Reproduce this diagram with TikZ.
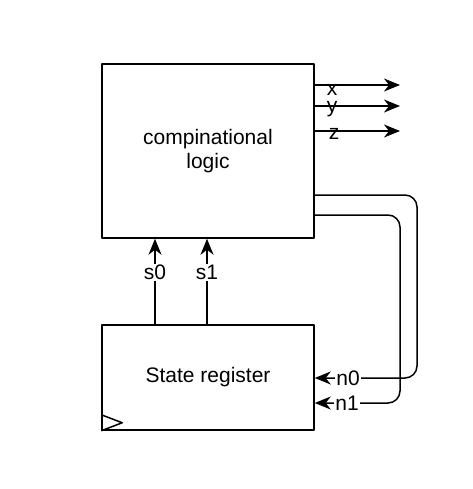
\documentclass[tikz,border=0pt]{standalone}
\usepackage{fontspec}
\setmainfont{Liberation Sans}
\usetikzlibrary{arrows.meta}
\tikzset{
  block/.style={draw,minimum width=212,minimum height=#1,align=center},
  sig/.style={fill=white,inner sep=1pt},
  outlbl/.style={inner sep=0pt,anchor=base},
}
\begin{document}
\begin{tikzpicture}[x=1pt,y=-1pt,line join=round,>={Stealth[length=16pt,width=13pt,inset=5pt]},
line width=1.5pt,font=\fontsize{21}{24}\selectfont]
\useasboundingbox (0,0) rectangle (472,489);
\node[block=174] (logic) at (208,151) {compinational\\logic};
\node[block=105] (reg) at (208,377.5) {State register};
% clock input
\draw (reg.south west) ++(0,-16) -- ++(21,8) -- ++(-21,8);
% outputs
\coordinate (xo) at (400,85);
\coordinate (yo) at (400,106);
\coordinate (zo) at (400,131);
\draw[->] (logic.east |- xo) -- (xo);
\draw[->] (logic.east |- yo) -- (yo);
\draw[->] (logic.east |- zo) -- (zo);
\node[outlbl] (xl) at (332,96) {x};
\node[outlbl] (yl) at (332,113) {y};
\node[outlbl] (zl) at (334,140) {z};
% state to logic
\coordinate (s0b) at (155,325);
\coordinate (s1b) at (207,325);
\draw[->] (s0b) -- (logic.south -| s0b) node[sig,pos=0.61] (s0) {s0};
\draw[->] (s1b) -- (logic.south -| s1b) node[sig,pos=0.61] (s1) {s1};
% next state feedback
\coordinate (n0t) at (314,195);
\coordinate (n1t) at (314,215);
\draw[->,rounded corners=12] (n0t) -- (417,195) -- (417,378) -- (reg.east |- 0,378);
\draw[->,rounded corners=12] (n1t) -- (400,215) -- (400,403) -- (reg.east |- 0,403);
\node[sig] (n0) at (348,378) {n0};
\node[sig] (n1) at (347,403) {n1};
\end{tikzpicture}
\end{document}
